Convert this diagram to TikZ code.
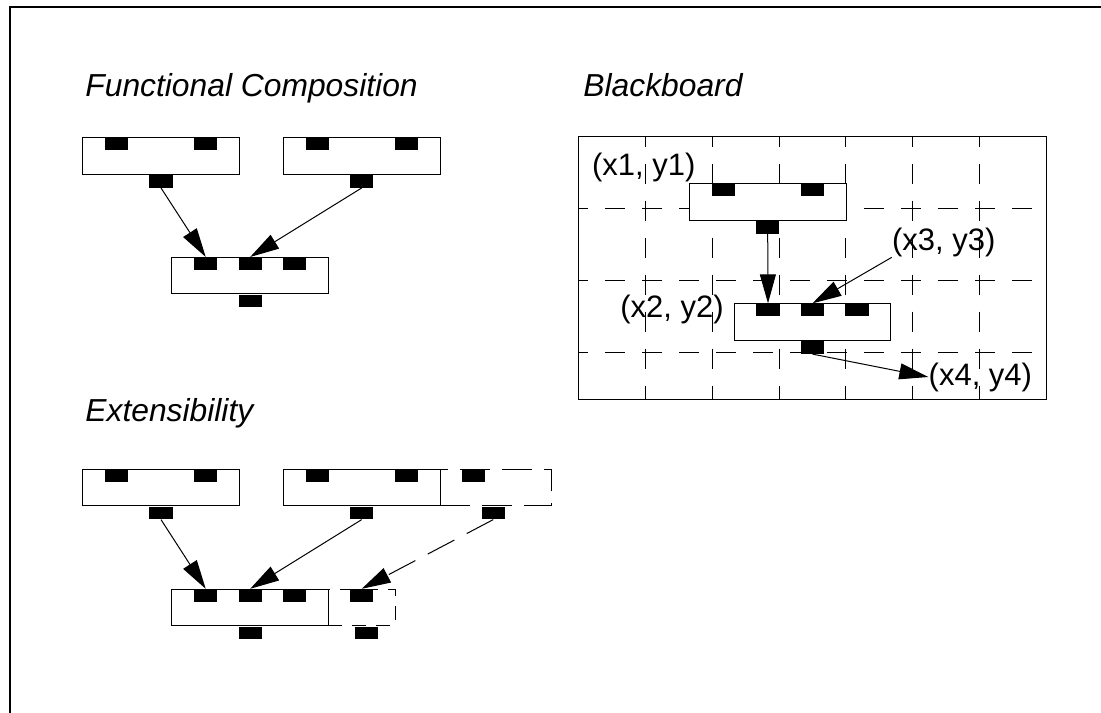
\documentclass[tikz,border=0pt]{standalone}
\usepackage{fontspec}
\setmainfont{Liberation Sans}
\usetikzlibrary{arrows.meta}
\tikzset{M node/.style={rectangle,fill=white,draw,line width=0.5pt,minimum width=78.3pt,minimum height=18.2pt,inner sep=0pt},
	X node/.style={M node,dash pattern=on 15pt off 6pt},
	P node/.style={rectangle,fill=black,minimum width=11.65pt,minimum height=6.3pt,inner sep=0pt,anchor=north},
	L node/.style={inner sep=0pt,anchor=west,font=\fontsize{15.5}{18}\selectfont},
	T node/.style={inner sep=0pt,anchor=base west,font=\fontsize{15.9}{18}\selectfont\itshape},
	G line/.style={line width=0.5pt,dash pattern=on 10pt off 8.5pt,dash phase=5pt},
	>={Triangle[length=14.5pt,width=8pt]},}

\begin{document}
\begin{tikzpicture}[x=0.5pt,y=-0.5pt]
			\useasboundingbox (0,0) rectangle (1101,712);
			\draw[line width=0.65pt] (10,716) -- (10,7) -- (1106,7);

			\node[T node] (fc) at (85,96.7) {Functional Composition};
			\node[T node] (bb) at (583,96) {Blackboard};
			\node[T node] (ex) at (85,421.7) {Extensibility};

			% functional composition
			\node[M node] (A) at (161,155.85) {};
			\node[M node] (B) at (361.7,155.85) {};
			\node[M node] (C) at (250.2,275.65) {};
			\node[P node, xshift=-22.25pt] (a1) at (A.north) {};
			\node[P node, xshift=22.25pt] (a2) at (A.north) {};
			\node[P node] (a3) at (A.south) {};
			\node[P node, xshift=-22.25pt] (b1) at (B.north) {};
			\node[P node, xshift=22.25pt] (b2) at (B.north) {};
			\node[P node] (b3) at (B.south) {};
			\node[P node, xshift=-22.25pt] (c1) at (C.north) {};
			\node[P node] (c2) at (C.north) {};
			\node[P node, xshift=22.25pt] (c3) at (C.north) {};
			\node[P node] (c4) at (C.south) {};

			\path[->, line width=0.5pt]
				(a3.south) edge (c1.north)
				(b3.south) edge (c2.north);

			% blackboard
			\draw[line width=0.5pt] (578.3,136.7) rectangle (1046.7,399.3);
			\foreach \i in {1,...,6}
				\draw[G line] ({578.3+66.9*\i},136.7) -- ({578.3+66.9*\i},399.3);
			\foreach \i in {1,2,3}
				\draw[G line] (578.3,{136.7+71.8*\i}) -- (1046.7,{136.7+71.8*\i});

			\node[M node] (D) at (767.7,202) {};
			\node[M node] (E) at (812.5,322) {};
			\node[P node, xshift=-22.25pt] (d1) at (D.north) {};
			\node[P node, xshift=22.25pt] (d2) at (D.north) {};
			\node[P node] (d3) at (D.south) {};
			\node[P node, xshift=-22.25pt] (e1) at (E.north) {};
			\node[P node] (e2) at (E.north) {};
			\node[P node, xshift=22.25pt] (e3) at (E.north) {};
			\node[P node] (e4) at (E.south) {};

			\node[L node] (x1y1) at (591.7,167) {(x1, y1)};
			\node[L node] (x2y2) at (620,309) {(x2, y2)};
			\node[L node] (x3y3) at (891.7,242.5) {(x3, y3)};
			\node[L node] (x4y4) at (928.3,377) {(x4, y4)};

			\path[->, line width=0.5pt]
				(d3.south) edge (e1.north)
				(x3y3.south west) edge (e2.north)
				(e4.south) edge (x4y4.west);

			% extensibility
			\node[X node, minimum width=55.85pt] (H) at (495.85,487.5) {};
			\node[X node, minimum width=33.35pt, dash pattern=on 7pt off 5pt] (J) at (361.7,607.5) {};
			\node[M node] (F) at (161,487.5) {};
			\node[M node] (G) at (361.7,487.5) {};
			\node[M node] (I) at (250.2,607.5) {};
			\node[P node, xshift=-22.25pt] (f1) at (F.north) {};
			\node[P node, xshift=22.25pt] (f2) at (F.north) {};
			\node[P node] (f3) at (F.south) {};
			\node[P node, xshift=-22.25pt] (g1) at (G.north) {};
			\node[P node, xshift=22.25pt] (g2) at (G.north) {};
			\node[P node] (g3) at (G.south) {};
			\node[P node, xshift=-11.3pt] (h1) at (H.north) {};
			\node[P node, xshift=-1.3pt] (h2) at (H.south) {};
			\node[P node, xshift=-22.25pt] (i1) at (I.north) {};
			\node[P node] (i2) at (I.north) {};
			\node[P node, xshift=22.25pt] (i3) at (I.north) {};
			\node[P node] (i4) at (I.south) {};
			\node[P node] (j1) at (J.north) {};
			\node[P node, xshift=2.5pt] (j2) at (J.south) {};

			\path[->, line width=0.5pt]
				(f3.south) edge (i1.north)
				(g3.south) edge (i2.north)
				(h2.south) edge[dash pattern=on 15pt off 7pt] (j1.north);
		\end{tikzpicture}
\end{document}
